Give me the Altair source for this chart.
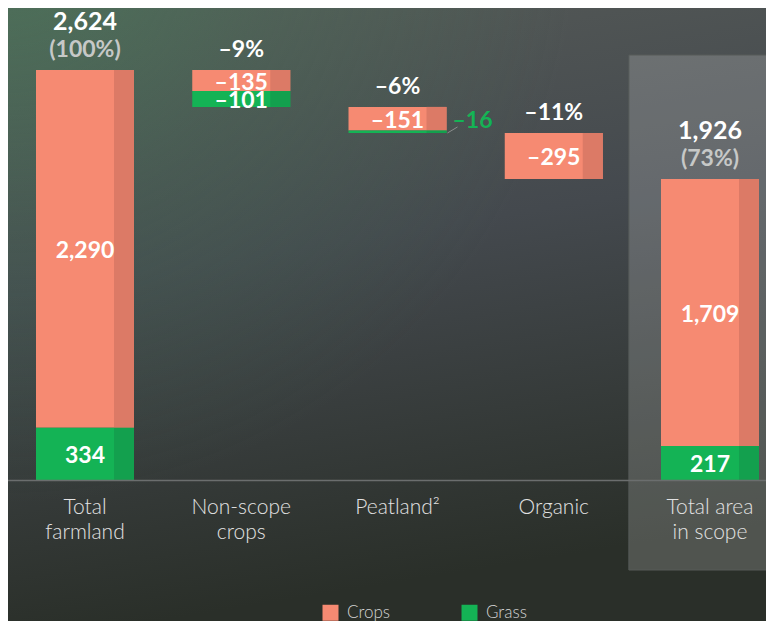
import altair as alt
import pandas as pd

# ---------------- data ----------------
categories = ["Total\nfarmland", "Non-scope\ncrops", "Peatland²", "Organic", "Total area\nin scope"]
is_total = [True, False, False, False, True]
crops = [2290, -135, -151, -295, 1709]
grass = [334, -101, -16, 0, 217]
head_main = ["2,624", "", "", "", "1,926"]
head_sub = ["(100%)", "–9%", "–6%", "–11%", "(73%)"]
series = ["Crops", "Grass"]
series_colors = ["#f68a72", "#14b355"]
shade_colors = ["#dc7a66", "#13a04e"]

# ---------------- layout ----------------
W, H = 758, 613
BASE = 472          # pixel row of the zero line
K = 0.15625         # pixels per unit
y_domain = [-(H - BASE) / K, BASE / K]
FONT = "Lato"


def fmt(v):
    return ("–" if v < 0 else "") + f"{abs(v):,}"


seg_rows, top_rows = [], []
level = 0
for i, c in enumerate(categories):
    if is_total[i]:
        g0, g1 = 0, grass[i]
        c0, c1 = grass[i], grass[i] + crops[i]
        level = c1
        top = c1
    else:
        top = level
        c0, c1 = level, level + crops[i]
        g0, g1 = c1, c1 + grass[i]
        level = g1
    for s, a, b, v in (("Crops", c0, c1, crops[i]), ("Grass", g0, g1, grass[i])):
        if v == 0:
            continue
        inside = abs(v) >= 50
        seg_rows.append(dict(cat=c, series=s, y0=a, y1=b, mid=(a + b) / 2,
                             label=fmt(v), inside=inside,
                             lo=min(a, b)))
    top_rows.append(dict(cat=c, top=top, main=head_main[i], sub=head_sub[i],
                         tcolor="#c6c8c7" if is_total[i] else "#ffffff"))

seg = pd.DataFrame(seg_rows)
tops = pd.DataFrame(top_rows)

xscale = alt.Scale(domain=categories, range=[-1.125, 780.125], paddingInner=0, paddingOuter=0)
yscale = alt.Scale(domain=y_domain, nice=False, zero=False)

X = alt.X("cat:N", sort=categories, scale=xscale,
          axis=alt.Axis(title=None, orient="bottom", offset=-(H - BASE),
                        labelExpr="split(datum.label, '\\n')", labelAngle=0,
                        labelAlign="center", labelBaseline="top",
                        ticks=False, grid=False, domainColor="#6b6e6e", domainWidth=1.5,
                        labelFont=FONT, labelFontSize=21, labelFontWeight=300,
                        labelColor="#e2e2e2",
                        labelPadding=16, labelLineHeight=25, labelLimit=0))

one = pd.DataFrame({"k": [0]})

bg = alt.Chart(one).mark_rect(
    color=alt.LinearGradient(
        gradient="linear", x1=0, y1=0, x2=0.2, y2=1,
        stops=[alt.GradientStop(color="#555a57", offset=0),
               alt.GradientStop(color="#44494e", offset=0.45),
               alt.GradientStop(color="#363b3a", offset=0.75),
               alt.GradientStop(color="#2a2f29", offset=1)])
).encode(x=alt.value(0), x2=alt.value(W), y=alt.value(0), y2=alt.value(H))

glow = alt.Chart(one).mark_rect(
    color=alt.RadialGradient(
        gradient="radial", x1=0, y1=0, r1=0, x2=0, y2=0, r2=0.75,
        stops=[alt.GradientStop(color="rgba(70,125,90,0.65)", offset=0),
               alt.GradientStop(color="rgba(70,125,90,0.25)", offset=0.5),
               alt.GradientStop(color="rgba(70,125,90,0)", offset=1)])
).encode(x=alt.value(0), x2=alt.value(W), y=alt.value(0), y2=alt.value(H))

panel = alt.Chart(tops[tops["cat"] == categories[-1]]).mark_rect(
    fill="#ffffff", fillOpacity=0.18, stroke="#565b59", strokeWidth=1, xOffset=-3
).encode(x=alt.X("cat:N", sort=categories, scale=xscale),
         y=alt.value(47), y2=alt.value(562))

bars = alt.Chart(seg).mark_bar(width=98).encode(
    x=X,
    y=alt.Y("y0:Q", scale=yscale, axis=None),
    y2="y1:Q",
    color=alt.Color("series:N", scale=alt.Scale(domain=series, range=series_colors),
                    legend=alt.Legend(title=None, orient="none", legendX=314, legendY=596,
                                      direction="horizontal", symbolType="square",
                                      symbolSize=256, symbolStrokeWidth=0, symbolOpacity=1,
                                      labelFont=FONT, labelFontSize=17, labelFontWeight=300,
                                      labelColor="#d4d4d4",
                                      columnPadding=70, labelOffset=8)),
)

shade = alt.Chart(seg).mark_bar(width=20, xOffset=39).encode(
    x=alt.X("cat:N", sort=categories, scale=xscale),
    y=alt.Y("y0:Q", scale=yscale),
    y2="y1:Q",
    color=alt.Color("series:N", scale=alt.Scale(domain=series, range=shade_colors), legend=None),
)

seg_text = alt.Chart(seg).transform_filter("datum.inside").mark_text(
    font=FONT, fontSize=23, fontWeight="bold", color="#ffffff", baseline="middle", dy=2
).encode(x=alt.X("cat:N", sort=categories, scale=xscale),
         y=alt.Y("mid:Q", scale=yscale), text="label:N")

side_text = alt.Chart(seg).transform_filter("!datum.inside").mark_text(
    font=FONT, fontSize=23, fontWeight="bold", color="#14b355", baseline="middle",
    align="left", dx=55, dy=-11
).encode(x=alt.X("cat:N", sort=categories, scale=xscale),
         y=alt.Y("mid:Q", scale=yscale), text="label:N")

leader = alt.Chart(seg).transform_filter("!datum.inside").mark_rule(
    color="#8a8d8c", strokeWidth=1, xOffset=50, x2Offset=60, y2Offset=-6
).encode(x=alt.X("cat:N", sort=categories, scale=xscale),
         x2=alt.X2("cat:N"),
         y=alt.Y("lo:Q", scale=yscale), y2=alt.Y2("lo:Q"))

main_text = alt.Chart(tops).transform_filter("datum.main != ''").mark_text(
    font=FONT, fontSize=25, fontWeight="bold", color="#ffffff", baseline="alphabetic", dy=-40
).encode(x=alt.X("cat:N", sort=categories, scale=xscale),
         y=alt.Y("top:Q", scale=yscale), text="main:N")

sub_text = alt.Chart(tops).mark_text(
    font=FONT, fontSize=23, fontWeight="bold", baseline="alphabetic", dy=-13
).encode(x=alt.X("cat:N", sort=categories, scale=xscale),
         y=alt.Y("top:Q", scale=yscale), text="sub:N",
         color=alt.Color("tcolor:N", scale=None))

chart = alt.layer(bg, glow, panel, bars, shade, seg_text, side_text, leader,
                  main_text, sub_text).properties(
    width=W, height=H, padding=0, autosize=alt.AutoSizeParams(type="none"),
    background="#3a3f3f"
).configure_view(stroke=None).resolve_scale(color="independent")

chart.save("out.html", embed_options={"renderer": "svg", "actions": False})
